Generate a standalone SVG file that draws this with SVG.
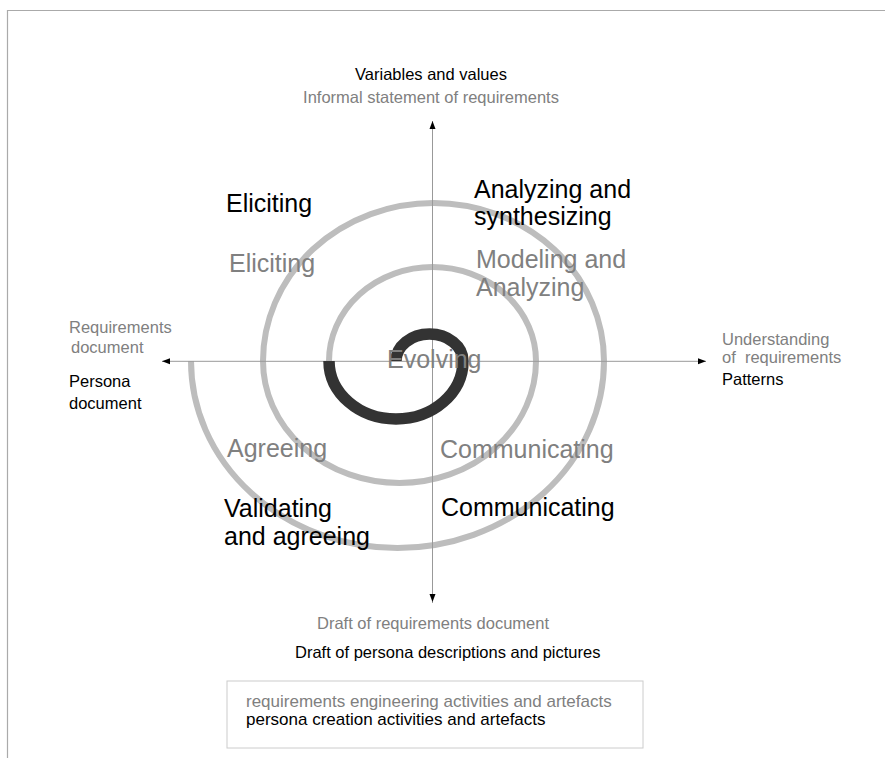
<svg xmlns="http://www.w3.org/2000/svg" width="885" height="758" viewBox="0 0 885 758">
<style>
text{font-family:"Liberation Sans",Arial,sans-serif}
.s{font-size:16.5px}
.lg{font-size:17px}
.l{font-size:25px}
.g{fill:#808080}
.k{fill:#000}
.ax{stroke:#999;stroke-width:1;fill:none}
</style>
<defs>
<marker id="arr" viewBox="0 0 8 8" refX="8" refY="4" markerWidth="8" markerHeight="8" markerUnits="userSpaceOnUse" orient="auto">
<path d="M0,1 L8,4 L0,7 Z" fill="#000"/>
</marker>
</defs>
<rect width="885" height="758" fill="#fff"/>
<path d="M7.5,758 V10.5 H885" fill="none" stroke="#aaa" stroke-width="1.2"/>
<g id="spiral">
<path d="M329,361 A103.5,94 0 0 1 536,361 A136.5,122 0 0 1 263,361 A170.5,158 0 0 1 604,361 A206.5,187 0 0 1 191,361" fill="none" stroke="#bdbdbd" stroke-width="6"/>
</g>
<g id="connectors">
<line class="ax" x1="432.5" y1="603" x2="432.5" y2="121" marker-end="url(#arr)"/>
<line class="ax" x1="432.5" y1="361" x2="432.5" y2="602" marker-end="url(#arr)"/>
<line class="ax" x1="432" y1="361.3" x2="162" y2="361.3" marker-end="url(#arr)"/>
<line class="ax" x1="432" y1="361.3" x2="706" y2="361.3" marker-end="url(#arr)"/>
</g>
<g id="core">
<path d="M329,361 A67,58 0 0 0 463,361 A33.5,27 0 0 0 396,361" fill="none" stroke="#333" stroke-width="11.5"/>
</g>
<g id="top">
<text class="s k" x="431" y="80" text-anchor="middle">Variables and values</text>
<text class="s g" x="431" y="103" text-anchor="middle">Informal statement of requirements</text>
</g>
<g id="left">
<text class="s g" x="69" y="333">Requirements</text>
<text class="s g" x="71" y="353">document</text>
<text class="s k" x="69" y="387">Persona</text>
<text class="s k" x="69" y="409">document</text>
</g>
<g id="right">
<text class="s g" x="722" y="345">Understanding</text>
<text class="s g" x="722" y="363" xml:space="preserve">of  requirements</text>
<text class="s k" x="722" y="385">Patterns</text>
</g>
<g id="bottom">
<text class="s g" x="317" y="629">Draft of requirements document</text>
<text class="s k" x="295" y="658">Draft of persona descriptions and pictures</text>
</g>
<g id="eliciting">
<text class="l k" x="226" y="212">Eliciting</text>
<text class="l g" x="229" y="272">Eliciting</text>
</g>
<g id="analyzing">
<text class="l k" x="474" y="198">Analyzing and</text>
<text class="l k" x="474" y="225">synthesizing</text>
<text class="l g" x="476" y="268">Modeling and</text>
<text class="l g" x="476" y="296">Analyzing</text>
</g>
<g id="evolving">
<text class="l g" x="387" y="368">Evolving</text>
</g>
<g id="agreeing">
<text class="l g" x="227" y="457">Agreeing</text>
<text class="l k" x="224" y="517">Validating</text>
<text class="l k" x="224" y="545">and agreeing</text>
</g>
<g id="communicating">
<text class="l g" x="440" y="458">Communicating</text>
<text class="l k" x="441" y="516">Communicating</text>
</g>
<g id="legend">
<rect x="227" y="681" width="416" height="67" fill="#fff" stroke="#ccc" stroke-width="1"/>
<text class="lg g" x="246" y="707">requirements engineering activities and artefacts</text>
<text class="lg k" x="246" y="725">persona creation activities and artefacts</text>
</g>
</svg>
